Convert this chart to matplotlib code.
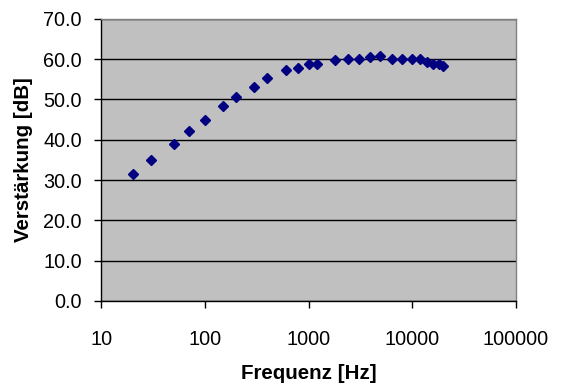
#%% IMPORTS               ~~~~~~~~~~~~~~~~~~~~~~~~~~~~~~~~~~~~~~~~~~~~
import matplotlib
matplotlib.use('Agg')
import matplotlib.pyplot as plt
from matplotlib.ticker import FixedLocator, FuncFormatter, NullLocator

#%% DATA               ~~~~~~~~~~~~~~~~~~~~~~~~~~~~~~~~~~~~~~~~~~~~
# Frequency in Hz
frequenz = [20, 30, 50, 70, 100, 150, 200, 300, 400, 600, 800, 1000, 1200, 1800,
            2400, 3100, 3900, 4900, 6400, 7900, 10000, 12000, 14000, 16000,
            18000, 20000]
# Gain in dB
verstaerkung = [31.4, 34.9, 38.9, 42.1, 44.8, 48.3, 50.5, 53.2, 55.2, 57.2, 57.9,
                58.7, 58.9, 59.7, 60.1, 60.1, 60.5, 60.7, 60.1, 60.1, 59.9, 59.9,
                59.4, 58.9, 58.7, 58.4]

x_ticks = [10, 100, 1000, 10000, 100000]
y_ticks = [0, 10, 20, 30, 40, 50, 60, 70]

#%% PLOT               ~~~~~~~~~~~~~~~~~~~~~~~~~~~~~~~~~~~~~~~~~~~~
plt.rcParams['font.family'] = ['Liberation Sans', 'DejaVu Sans']

fig = plt.figure(figsize=(5.61, 3.91), dpi=100)
ax = fig.add_axes([0.1806, 0.2302, 0.9193 - 0.1806, 0.952 - 0.2302])
ax.set_facecolor('#C0C0C0')

# Gridlines (black, horizontal only)
ax.set_axisbelow(True)
ax.yaxis.grid(True, color='black', linewidth=1.0)

ax.plot(frequenz, verstaerkung, linestyle='none', marker='D',
        markersize=5.3, color='#000080', zorder=3)

ax.set_xscale('log')
ax.set_xlim(10, 100000)
ax.set_ylim(0, 70)
ax.xaxis.set_major_locator(FixedLocator(x_ticks))
ax.xaxis.set_minor_locator(NullLocator())
ax.xaxis.set_major_formatter(FuncFormatter(lambda v, p: f'{int(v)}'))
ax.yaxis.set_major_locator(FixedLocator(y_ticks))
ax.yaxis.set_major_formatter(FuncFormatter(lambda v, p: f'{v:.1f}'))

ax.tick_params(axis='both', direction='out', length=5, width=1,
               color='black', labelsize=14.3)
ax.tick_params(axis='x', pad=16)
ax.tick_params(axis='y', pad=9)

for side in ['left', 'bottom']:
    ax.spines[side].set_color('black')
    ax.spines[side].set_linewidth(1.0)
for side in ['top', 'right']:
    ax.spines[side].set_color('#808080')
    ax.spines[side].set_linewidth(1.0)

ax.set_xlabel('Frequenz [Hz]', fontsize=14.8, fontweight='bold')
ax.set_ylabel('Verstärkung [dB]', fontsize=14.8, fontweight='bold')
ax.xaxis.set_label_coords(0.5, -0.225)
ax.yaxis.set_label_coords(-0.166, 0.5)

fig.savefig('out.png', dpi=100)
